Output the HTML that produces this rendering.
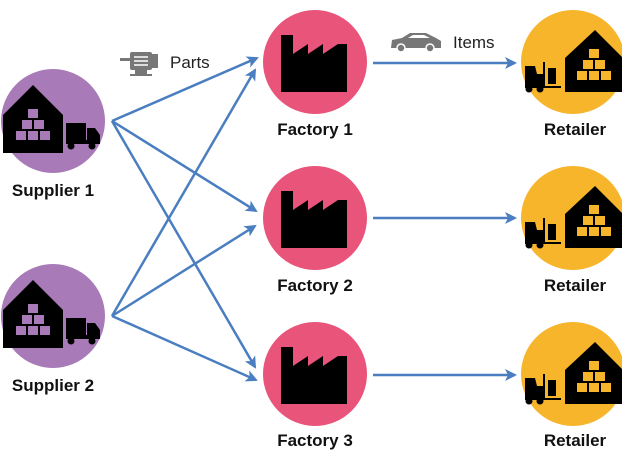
<!DOCTYPE html>
<html><head><style>
body{margin:0;background:#fff;width:622px;height:451px;overflow:hidden}
text{font-family:"Liberation Sans",sans-serif}
</style></head><body>
<svg width="622" height="451" viewBox="0 0 622 451">
<defs>
<marker id="a" markerWidth="12" markerHeight="12" refX="10" refY="6" orient="auto" markerUnits="userSpaceOnUse" viewBox="0 0 12 12"><path d="M0,0 L12,6 L0,12 L3,6 z" fill="#4a7ec0"/></marker>
<g id="wh">
<path d="M-50,-6 L-20,-36 L10,-6 L10,32 L-50,32 z" fill="#000"/>
<g fill="#a97ab8"><rect x="-25" y="-12" width="10" height="9"/><rect x="-31" y="-1" width="10" height="9"/><rect x="-19" y="-1" width="10" height="9"/><rect x="-37" y="10" width="10" height="9"/><rect x="-25" y="10" width="10" height="9"/><rect x="-13" y="10" width="10" height="9"/></g>
<rect x="13" y="2" width="20" height="17" fill="#000"/><path d="M34,7 L42,7 L47,14 L47,23 L13,23 L13,19 L34,19z" fill="#000"/>
<circle cx="18" cy="25" r="3.5" fill="#000"/><circle cx="39" cy="25" r="3.5" fill="#000"/>
</g>
<g id="fa"><path d="M-33,-27 L-21,-27 L-21,-8 L-6,-18 L-6,-8 L9,-18 L9,-8 L24,-18 L33,-18 L33,30 L-33,30 z" fill="#000"/></g>
<g id="re">
<path d="M-8,-4 L22,-32 L50,-4 L50,30 L-8,30 z" fill="#000"/>
<g fill="#f7b52c"><rect x="16" y="-13" width="10" height="9"/><rect x="10" y="-2" width="10" height="9"/><rect x="22" y="-2" width="10" height="9"/><rect x="4" y="9" width="10" height="9"/><rect x="16" y="9" width="10" height="9"/><rect x="28" y="9" width="10" height="9"/></g>
<path d="M-48,4 L-38,4 L-36,12 L-30,12 L-30,0 L-28,0 L-28,24 L-12,24 L-12,26 L-48,26z" fill="#000"/>
<rect x="-25" y="6" width="8" height="16" fill="#000"/>
<circle cx="-44" cy="27" r="3.5" fill="#000"/><circle cx="-33" cy="27" r="3.5" fill="#000"/>
</g>
</defs>
<circle cx="53" cy="121" r="52" fill="#a97ab8"/><use href="#wh" x="53" y="121"/>
<circle cx="53" cy="316" r="52" fill="#a97ab8"/><use href="#wh" x="53" y="316"/>
<g fill="#e9547a"><circle cx="315" cy="62" r="52"/><circle cx="315" cy="218" r="52"/><circle cx="315" cy="374" r="52"/></g>
<use href="#fa" x="314" y="62"/><use href="#fa" x="314" y="218"/><use href="#fa" x="314" y="374"/>
<g fill="#f7b52c"><circle cx="573" cy="62" r="52"/><circle cx="573" cy="218" r="52"/><circle cx="573" cy="374" r="52"/></g>
<use href="#re" x="573" y="62"/><use href="#re" x="573" y="218"/><use href="#re" x="573" y="374"/>
<g stroke="#4a7ec0" stroke-width="2.5" fill="none" marker-end="url(#a)">
<line x1="112" y1="121" x2="257" y2="58"/><line x1="112" y1="121" x2="256" y2="211"/><line x1="112" y1="121" x2="255" y2="367"/>
<line x1="112" y1="316" x2="255" y2="70"/><line x1="112" y1="316" x2="255" y2="226"/><line x1="112" y1="316" x2="256" y2="380"/>
<line x1="373" y1="63" x2="515" y2="63"/><line x1="373" y1="218" x2="515" y2="218"/><line x1="373" y1="375" x2="515" y2="375"/>
</g>
<g fill="#777"><rect x="120" y="58" width="10" height="3"/><rect x="130" y="52" width="22" height="18" rx="2"/><rect x="152" y="54" width="6" height="14"/><rect x="135" y="70" width="12" height="4"/><rect x="130" y="74" width="22" height="2"/></g>
<g stroke="#fff" stroke-width="1.5"><line x1="134" y1="57" x2="148" y2="57"/><line x1="134" y1="61" x2="148" y2="61"/><line x1="134" y1="65" x2="148" y2="65"/></g>
<text x="170" y="68" font-size="17" fill="#222">Parts</text>
<path d="M391,48 L392,40 L402,38 L410,33 L426,33 L436,38 L441,41 L441,48z" fill="#777"/>
<path d="M408,38 L413,35 L424,35 L430,38z" fill="#fff"/>
<circle cx="401" cy="48" r="4" fill="#777" stroke="#fff" stroke-width="1.5"/><circle cx="430" cy="48" r="4" fill="#777" stroke="#fff" stroke-width="1.5"/>
<text x="453" y="48" font-size="17" fill="#222">Items</text>
<g font-size="17" font-weight="bold" fill="#111" text-anchor="middle">
<text x="53" y="196">Supplier 1</text><text x="53" y="391">Supplier 2</text>
<text x="315" y="135">Factory 1</text><text x="315" y="291">Factory 2</text><text x="315" y="446">Factory 3</text>
<text x="575" y="135">Retailer</text><text x="575" y="291">Retailer</text><text x="575" y="446">Retailer</text>
</g>
</svg>
</body></html>
